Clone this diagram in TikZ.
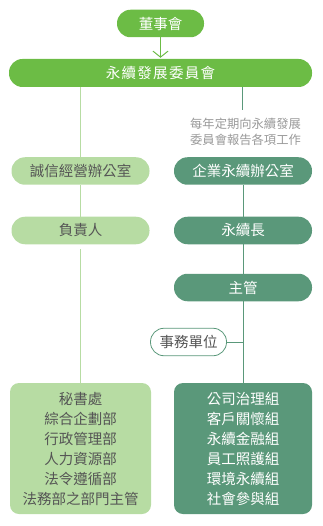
\documentclass[tikz,border=0pt]{standalone}
\usepackage{fontspec}
\setmainfont{Noto Sans CJK TC}
\newfontfamily\widecjk[LetterSpace=9]{Noto Sans CJK TC}
\usetikzlibrary{arrows.meta}
\definecolor{gA}{HTML}{6CBC45}
\definecolor{gL}{HTML}{B7DCA3}
\definecolor{gD}{HTML}{5A987A}
\definecolor{txD}{HTML}{555555}
\definecolor{txG}{HTML}{999999}
\begin{document}
\begin{tikzpicture}[x=1pt,y=-1pt,
  pill/.style={rounded corners=13.5pt, minimum height=27.5pt, inner sep=0pt, font=\fontsize{14.5}{16}\selectfont},
  topbox/.style={pill, fill=gA, text=white, minimum width=87pt},
  mainbox/.style={pill, fill=gA, text=white, minimum width=303pt, minimum height=28pt, font=\widecjk\fontsize{14.5}{16}\selectfont},
  lbox/.style={pill, fill=gL, text=txD, minimum width=138pt},
  rbox/.style={pill, fill=gD, text=white, minimum width=138pt},
  unitbox/.style={pill, draw=gD, line width=0.8pt, fill=white, text=txD, minimum width=76pt},
  bigl/.style={rounded corners=9pt, fill=gL, text=txD, minimum width=141pt, minimum height=131pt, inner sep=0pt, align=center, font=\fontsize{14.5}{20}\selectfont},
  bigr/.style={rounded corners=9pt, fill=gD, text=white, minimum width=138pt, minimum height=131pt, inner sep=0pt, align=center, font=\fontsize{14.5}{20}\selectfont},
  lline/.style={draw=gL, line width=1pt},
  rline/.style={draw=gD, line width=1pt},
  anno/.style={text=txG, align=center, inner sep=0pt, font=\fontsize{12.3}{16}\selectfont}
]
\useasboundingbox (0,0) rectangle (323,526);
\node[topbox] (board) at (160.5,23.5) {董事會};
\node[mainbox] (committee) at (160.5,73) {永續發展委員會};
\node[lbox] (integ) at (80.5,171) {誠信經營辦公室};
\node[rbox] (esgoff) at (243,171) {企業永續辦公室};
\node[lbox] (resp) at (80.5,230.5) {負責人};
\node[rbox] (cso) at (243,230.5) {永續長};
\node[rbox] (mgr) at (243,287.5) {主管};
\node[unitbox] (unit) at (188.5,342) {事務單位};
\node[bigl] (ldept) at (80.5,448.5) {秘書處\\綜合企劃部\\行政管理部\\人力資源部\\法令遵循部\\法務部之部門主管};
\node[bigr] (rdept) at (243,448.5) {公司治理組\\客戶關懷組\\永續金融組\\員工照護組\\環境永續組\\社會參與組};
\coordinate (annotop) at (242,110);
\node[anno] (annotext) at (245.5,132) {每年定期向永續發展\\委員會報告各項工作};

\draw[draw=gA, line width=1pt, -{Straight Barb[length=6pt,width=15pt,line width=1pt]}] (board.south) -- ([yshift=1pt]committee.north);
\draw[lline] (committee.south -| integ.north) -- (integ.north);
\draw[gD, line width=1pt] (committee.south -| annotop) -- (annotop);
\draw[lline] (integ.south) -- (resp.north);
\draw[lline, shorten <=5pt] (resp.south) -- (ldept.north);
\draw[rline] (esgoff.south) -- (cso.north);
\draw[rline] (cso.south) -- (mgr.north);
\draw[rline] (mgr.south) -- (rdept.north);
\draw[rline] (unit.east) -- (unit.east -| mgr.south);
\end{tikzpicture}
\end{document}
